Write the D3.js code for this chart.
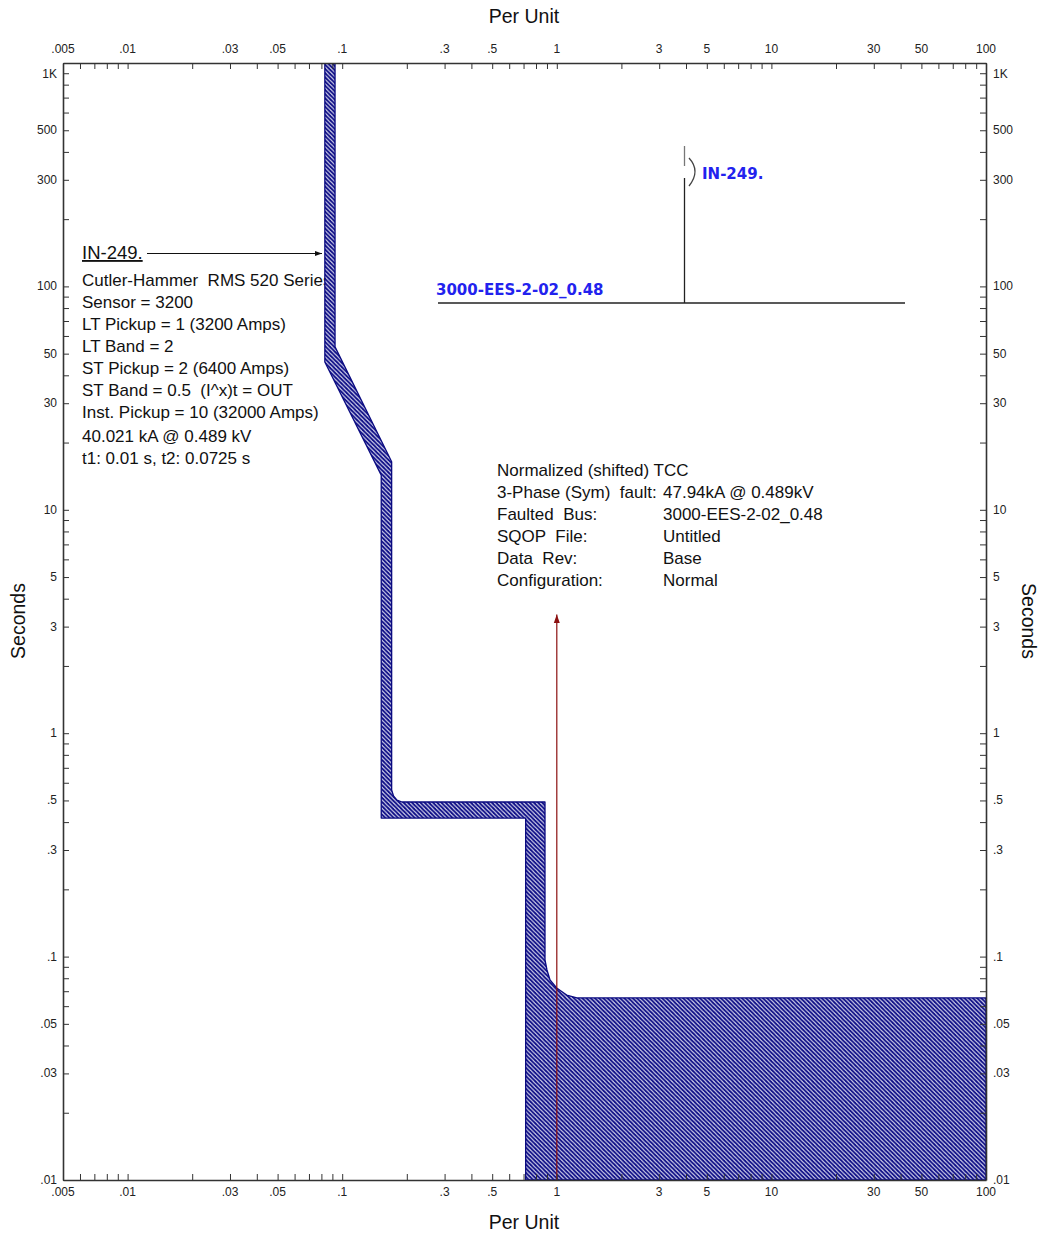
<!DOCTYPE html>
<html>
<head>
<meta charset="utf-8">
<script src="https://cdn.jsdelivr.net/npm/d3@7"></script>
<style>
  body { margin: 0; background: #fff; }
  text { font-family: "Liberation Sans", Arial, sans-serif; }
</style>
</head>
<body>
<svg id="chart" width="1042" height="1235"></svg>
<script>
// axis ticks (per unit current, seconds)
const xTickValues = [0.005, 0.01, 0.03, 0.05, 0.1, 0.3, 0.5, 1, 3, 5, 10, 30, 50, 100];
const xTickLabels = ['.005', '.01', '.03', '.05', '.1', '.3', '.5', '1', '3', '5', '10', '30', '50', '100'];
const yTickValues = [1000, 500, 300, 100, 50, 30, 10, 5, 3, 1, 0.5, 0.3, 0.1, 0.05, 0.03, 0.01];
const yTickLabels = ['1K', '500', '300', '100', '50', '30', '10', '5', '3', '1', '.5', '.3', '.1', '.05', '.03', '.01'];

// IN-249. breaker band outline (per unit, seconds)
const bandCurrent = [0.083, 0.083, 0.152, 0.152, 0.716, 0.716, 100, 100, 1.24, 1.112, 0.999, 0.930, 0.900, 0.881, 0.881, 0.190, 0.180, 0.1734, 0.170, 0.170, 0.0926, 0.0926];
const bandTime    = [1000, 45.9, 14.3, 0.417, 0.417, 0.01, 0.01, 0.0653, 0.0653, 0.0673, 0.0724, 0.0786, 0.0871, 0.0966, 0.492, 0.492, 0.502, 0.524, 0.557, 16.4, 53.6, 1000];

// fault arrow
const faultCurrent = 1;
const faultArrowTime = [0.01, 3.4];

// labels
const relayName = 'IN-249.';
const relayLines = [
  'Cutler-Hammer  RMS 520 Series',
  'Sensor = 3200',
  'LT Pickup = 1 (3200 Amps)',
  'LT Band = 2',
  'ST Pickup = 2 (6400 Amps)',
  'ST Band = 0.5  (I^x)t = OUT',
  'Inst. Pickup = 10 (32000 Amps)',
  '40.021 kA @ 0.489 kV',
  't1: 0.01 s, t2: 0.0725 s'
];
const faultTitle = 'Normalized (shifted) TCC';
const faultKeys = ['3-Phase (Sym)  fault:', 'Faulted  Bus:', 'SQOP  File:', 'Data  Rev:', 'Configuration:'];
const faultVals = ['47.94kA @ 0.489kV', '3000-EES-2-02_0.48', 'Untitled', 'Base', 'Normal'];
const busName = '3000-EES-2-02_0.48';

const svg = d3.select('#chart');
const pLeft = 63, pRight = 986, pTop = 63, pBottom = 1180;

const x = d3.scaleLog().domain([0.005, 100]).range([pLeft, pRight]);
const y = d3.scaleLog().domain([0.01, 1000]).range([pBottom, pTop]);

// minor ticks 1..9 per decade
const minor = (lo, hi) => {
  const out = [];
  for (let e = Math.floor(Math.log10(lo)); e <= Math.ceil(Math.log10(hi)); e++) {
    for (let m = 1; m <= 9; m++) {
      const v = +(m * Math.pow(10, e)).toPrecision(6);
      if (v >= lo * 0.999 && v <= hi * 1.001) out.push(v);
    }
  }
  return out;
};
const xMinor = minor(0.005, 100);
const yMinor = minor(0.01, 1000);

const defs = svg.append('defs');
const pat = defs.append('pattern')
  .attr('id', 'hatch')
  .attr('patternUnits', 'userSpaceOnUse')
  .attr('width', 4.2).attr('height', 4.2);
pat.append('rect').attr('width', 4.2).attr('height', 4.2).attr('fill', '#d8d8ee');
pat.append('path')
  .attr('d', 'M-1,-1 L5.2,5.2 M-1,3.2 L1,5.2 M3.2,-1 L5.2,1')
  .attr('stroke', '#0c0c85').attr('stroke-width', 1.9);

defs.append('clipPath').attr('id', 'plotClip')
  .append('rect').attr('x', pLeft).attr('y', pTop).attr('width', pRight - pLeft).attr('height', pBottom - pTop);

defs.append('marker').attr('id', 'arrowBlack')
  .attr('viewBox', '0 0 10 10').attr('refX', 10).attr('refY', 5)
  .attr('markerWidth', 7).attr('markerHeight', 7).attr('markerUnits', 'userSpaceOnUse').attr('orient', 'auto')
  .append('path').attr('d', 'M0,1.5 L10,5 L0,8.5 Z').attr('fill', '#111');
defs.append('marker').attr('id', 'arrowRed')
  .attr('viewBox', '0 0 10 10').attr('refX', 10).attr('refY', 5)
  .attr('markerWidth', 9).attr('markerHeight', 9).attr('markerUnits', 'userSpaceOnUse').attr('orient', 'auto')
  .append('path').attr('d', 'M0,1.5 L10,5 L0,8.5 Z').attr('fill', '#8b1010');

// relay text block (drawn first so the band sits over it)
svg.append('text')
  .attr('x', 82).attr('y', 259)
  .attr('font-size', 18.5).attr('fill', '#111')
  .attr('text-decoration', 'underline')
  .text(relayName);
svg.append('line')
  .attr('x1', 147).attr('x2', 322).attr('y1', 253.5).attr('y2', 253.5)
  .attr('stroke', '#111').attr('stroke-width', 1.2)
  .attr('marker-end', 'url(#arrowBlack)');
svg.append('g').selectAll('text')
  .data(relayLines)
  .join('text')
  .attr('x', 82)
  .attr('y', (d, i) => 285.5 + i * 22 + (i >= 7 ? 2 : 0))
  .attr('font-size', 17).attr('fill', '#111')
  .style('white-space', 'pre')
  .text(d => d);

// band
const bandPts = bandCurrent.map((c, i) => [x(c), y(bandTime[i])]);
const bandPath = d3.line()(bandPts) + 'Z';
const plot = svg.append('g').attr('clip-path', 'url(#plotClip)');
plot.append('path')
  .attr('d', bandPath)
  .attr('fill', 'url(#hatch)')
  .attr('stroke', '#0a0a80').attr('stroke-width', 1.3)
  .attr('stroke-linejoin', 'round');

// fault current arrow
plot.append('line')
  .attr('x1', x(faultCurrent)).attr('x2', x(faultCurrent))
  .attr('y1', y(faultArrowTime[0])).attr('y2', y(faultArrowTime[1]))
  .attr('stroke', '#8b1010').attr('stroke-width', 1.2)
  .attr('marker-end', 'url(#arrowRed)');

// fault info block
const info = svg.append('g').attr('font-size', 17).attr('fill', '#111');
info.append('text').attr('x', 497).attr('y', 476).text(faultTitle);
info.selectAll('text.k').data(faultKeys).join('text')
  .attr('class', 'k').attr('x', 497).attr('y', (d, i) => 498 + i * 22)
  .style('white-space', 'pre')
  .text(d => d);
info.selectAll('text.v').data(faultVals).join('text')
  .attr('class', 'v').attr('x', 663).attr('y', (d, i) => 498 + i * 22)
  .text(d => d);

// one-line diagram
const ol = svg.append('g');
ol.append('line').attr('x1', 438).attr('x2', 905).attr('y1', 303).attr('y2', 303)
  .attr('stroke', '#222').attr('stroke-width', 1.3);
ol.append('line').attr('x1', 684.5).attr('x2', 684.5).attr('y1', 303).attr('y2', 178)
  .attr('stroke', '#222').attr('stroke-width', 1.3);
ol.append('line').attr('x1', 684.5).attr('x2', 684.5).attr('y1', 146).attr('y2', 166)
  .attr('stroke', '#777').attr('stroke-width', 1.3);
ol.append('path').attr('d', 'M689,158 Q701,171 689,186')
  .attr('fill', 'none').attr('stroke', '#444').attr('stroke-width', 1.3);
ol.append('text').attr('x', 702).attr('y', 179)
  .style('font-family', '"DejaVu Sans", sans-serif').style('font-weight', 'bold')
  .attr('font-size', 15).attr('fill', '#2222ee').text(relayName);
ol.append('text').attr('x', 436).attr('y', 295)
  .style('font-family', '"DejaVu Sans", sans-serif').style('font-weight', 'bold')
  .attr('font-size', 15).attr('fill', '#2222ee').text(busName);

// axes: ticks point into the plot
const tickStyle = g => {
  g.select('.domain').attr('stroke', '#333').attr('stroke-width', 1.6);
  g.selectAll('.tick line').attr('stroke', '#333').attr('stroke-width', 1);
  g.selectAll('.tick text').remove();
};
svg.append('g').attr('transform', `translate(0,${pTop})`)
  .call(d3.axisBottom(x).tickValues(xMinor).tickSizeInner(6).tickSizeOuter(0)).call(tickStyle);
svg.append('g').attr('transform', `translate(0,${pBottom})`)
  .call(d3.axisTop(x).tickValues(xMinor).tickSizeInner(6).tickSizeOuter(0)).call(tickStyle);
svg.append('g').attr('transform', `translate(${pLeft},0)`)
  .call(d3.axisRight(y).tickValues(yMinor).tickSizeInner(6).tickSizeOuter(0)).call(tickStyle);
svg.append('g').attr('transform', `translate(${pRight},0)`)
  .call(d3.axisLeft(y).tickValues(yMinor).tickSizeInner(6).tickSizeOuter(0)).call(tickStyle);

// tick labels
const lab = svg.append('g').attr('font-size', 12).attr('fill', '#222');
[53, 1196].forEach(ty => {
  lab.append('g').selectAll('text').data(xTickValues).join('text')
    .attr('x', d => x(d)).attr('y', ty)
    .attr('text-anchor', 'middle')
    .text((d, i) => xTickLabels[i]);
});
lab.append('g').selectAll('text').data(yTickValues).join('text')
  .attr('x', 57).attr('y', d => Math.max(y(d), pTop + 11) + 4)
  .attr('text-anchor', 'end')
  .text((d, i) => yTickLabels[i]);
lab.append('g').selectAll('text').data(yTickValues).join('text')
  .attr('x', 993).attr('y', d => Math.max(y(d), pTop + 11) + 4)
  .attr('text-anchor', 'start')
  .text((d, i) => yTickLabels[i]);

// axis titles
svg.append('text').attr('x', 524).attr('y', 23).attr('text-anchor', 'middle')
  .attr('font-size', 19.5).attr('fill', '#111').text('Per Unit');
svg.append('text').attr('x', 524).attr('y', 1229).attr('text-anchor', 'middle')
  .attr('font-size', 19.5).attr('fill', '#111').text('Per Unit');
svg.append('text').attr('transform', 'translate(25,621) rotate(-90)').attr('text-anchor', 'middle')
  .attr('font-size', 19.5).attr('fill', '#111').text('Seconds');
svg.append('text').attr('transform', 'translate(1022,621) rotate(90)').attr('text-anchor', 'middle')
  .attr('font-size', 19.5).attr('fill', '#111').text('Seconds');
</script>
</body>
</html>
